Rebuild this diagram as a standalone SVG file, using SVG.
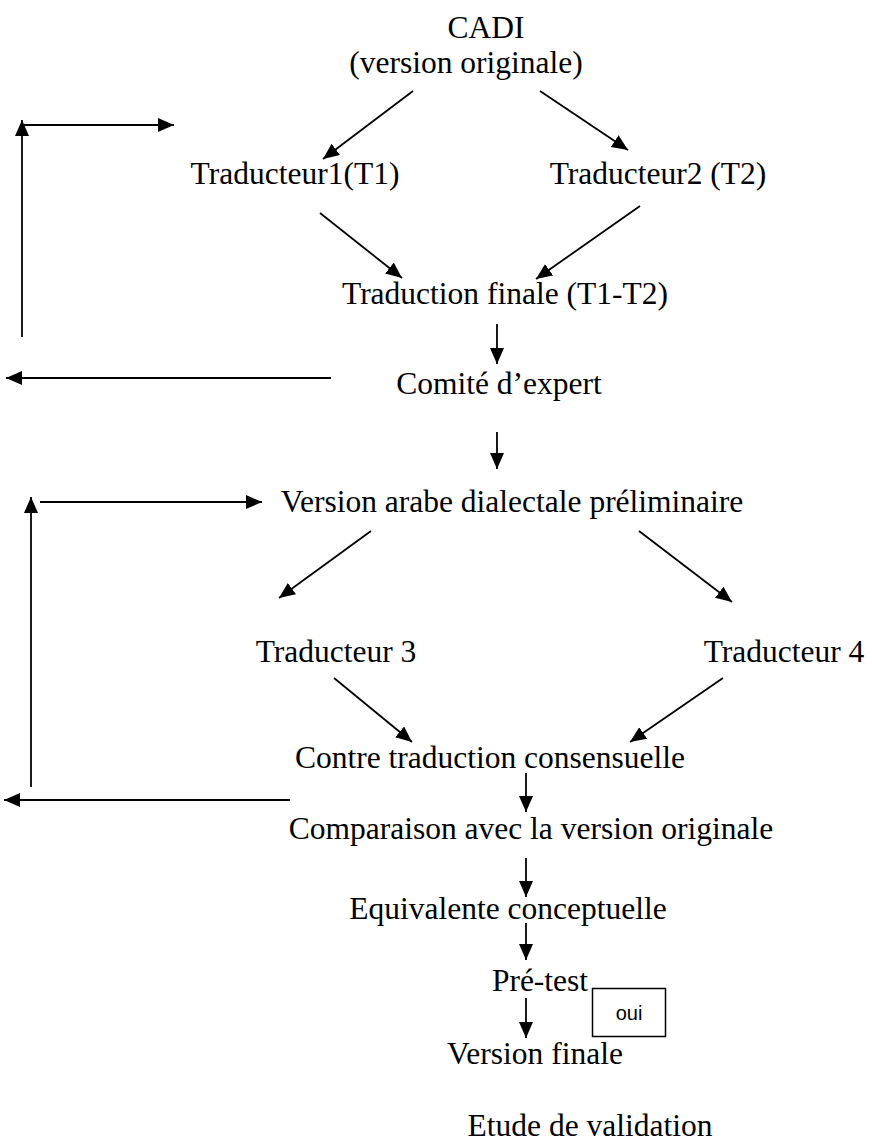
<svg xmlns="http://www.w3.org/2000/svg" width="872" height="1142" viewBox="0 0 872 1142">
<style>
.t{font-family:"Liberation Serif","Times New Roman",serif;font-size:31.5px;fill:#000;text-anchor:middle}
.s{font-family:"Liberation Sans",Arial,sans-serif;font-size:20px;fill:#000;text-anchor:middle}
.c{stroke:#000;stroke-width:1.8;fill:none;marker-end:url(#ah)}
.p{stroke:#000;stroke-width:1.8;fill:none}
</style>
<defs>
<marker id="ah" markerUnits="userSpaceOnUse" markerWidth="18" markerHeight="16" refX="16" refY="7" orient="auto">
<path d="M0,0 L16,7 L0,14 Z" fill="#000"/>
</marker>
</defs>
<rect width="872" height="1142" fill="#fff"/>
<g id="n-cadi"><text class="t" x="486" y="38">CADI</text><text class="t" x="466" y="73">(version originale)</text></g>
<g id="n-t1"><text class="t" x="295" y="184">Traducteur1(T1)</text></g>
<g id="n-t2"><text class="t" x="658" y="184">Traducteur2 (T2)</text></g>
<g id="n-tf"><text class="t" x="505" y="304">Traduction finale (T1-T2)</text></g>
<g id="n-comite"><text class="t" x="499" y="394">Comité d’expert</text></g>
<g id="n-var"><text class="t" x="512" y="512">Version arabe dialectale préliminaire</text></g>
<g id="n-t3"><text class="t" x="336" y="662">Traducteur 3</text></g>
<g id="n-t4"><text class="t" x="784" y="662">Traducteur 4</text></g>
<g id="n-ctc"><text class="t" x="490" y="768">Contre traduction consensuelle</text></g>
<g id="n-comp"><text class="t" x="531" y="839">Comparaison avec la version originale</text></g>
<g id="n-eq"><text class="t" x="508" y="919">Equivalente conceptuelle</text></g>
<g id="n-pre"><text class="t" x="540" y="991">Pré-test</text></g>
<g id="n-oui"><rect x="592.5" y="988.5" width="73" height="48" fill="#fff" stroke="#000" stroke-width="1.5"/><text class="s" x="629" y="1020">oui</text></g>
<g id="n-vf"><text class="t" x="535" y="1064">Version finale</text></g>
<g id="n-etude"><text class="t" x="590" y="1136">Etude de validation</text></g>
<g id="connectors">
<line class="c" x1="413" y1="91" x2="323" y2="159"/>
<line class="c" x1="540" y1="91" x2="628" y2="150"/>
<line class="c" x1="320" y1="213" x2="402" y2="278"/>
<line class="c" x1="640" y1="206" x2="536" y2="279"/>
<line class="c" x1="497" y1="324" x2="497" y2="364"/>
<line class="c" x1="331" y1="378" x2="6" y2="378"/>
<line class="c" x1="22" y1="337" x2="22" y2="120"/>
<line class="p" x1="21" y1="125" x2="160" y2="125"/>
<line class="c" x1="150" y1="125" x2="174" y2="125"/>
<line class="c" x1="497" y1="432" x2="497" y2="469"/>
<line class="c" x1="40" y1="502" x2="262" y2="502"/>
<line class="c" x1="31" y1="787" x2="31" y2="497"/>
<line class="c" x1="371" y1="531" x2="279" y2="598"/>
<line class="c" x1="639" y1="531" x2="732" y2="602"/>
<line class="c" x1="334" y1="678" x2="412" y2="742"/>
<line class="c" x1="723" y1="678" x2="630" y2="742"/>
<line class="c" x1="526" y1="773" x2="526" y2="812"/>
<line class="c" x1="290" y1="800" x2="4" y2="800"/>
<line class="c" x1="526" y1="858" x2="526" y2="897"/>
<line class="c" x1="526" y1="923" x2="526" y2="960"/>
<line class="c" x1="526" y1="998" x2="526" y2="1038"/>
</g>
</svg>
